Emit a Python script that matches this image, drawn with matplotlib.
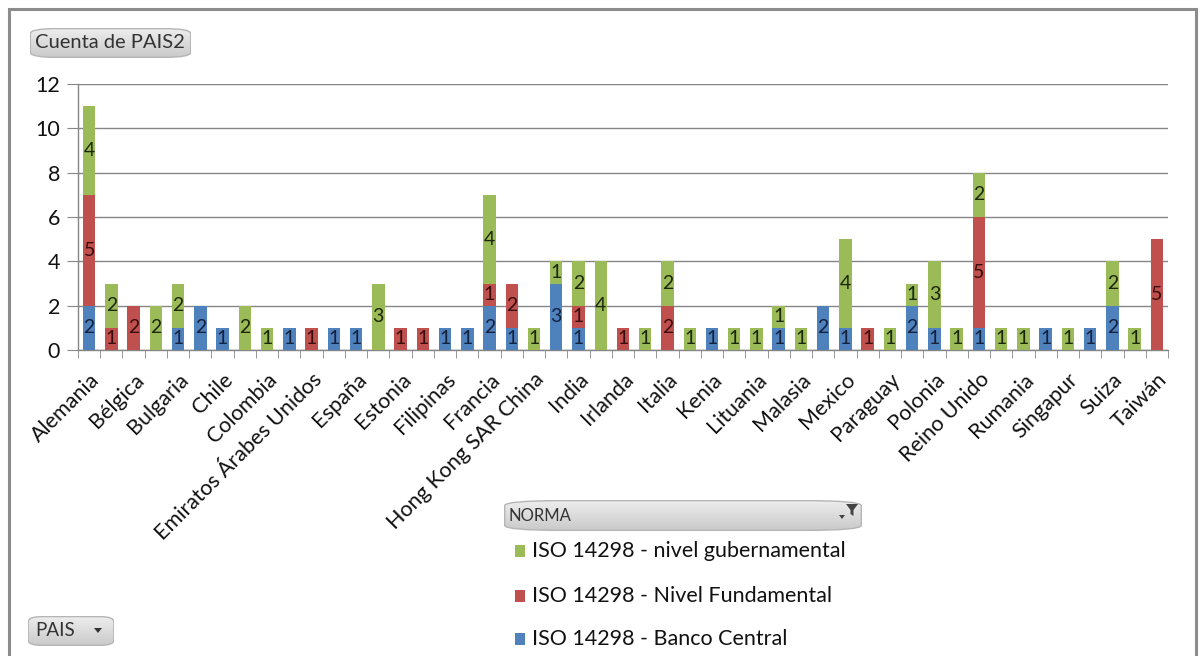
import numpy as np
import matplotlib
matplotlib.use("Agg")
import matplotlib.pyplot as plt
from matplotlib.patches import FancyBboxPatch, Rectangle, Polygon

plt.rcParams['font.family'] = ['Lato', 'DejaVu Sans']

# Country labels shown on the axis (every other category is labelled)
shown_labels = ["Alemania", "Bélgica", "Bulgaria", "Chile", "Colombia",
                "Emiratos Árabes Unidos", "España", "Estonia", "Filipinas",
                "Francia", "Hong Kong SAR China", "India", "Irlanda", "Italia",
                "Kenia", "Lituania", "Malasia", "Mexico", "Paraguay", "Polonia",
                "Reino Unido", "Rumania", "Singapur", "Suiza", "Taiwán"]

series_names = ["ISO 14298 - Banco Central",
                "ISO 14298 - Nivel Fundamental",
                "ISO 14298 - nivel gubernamental"]

banco_central = [2, 0, 0, 0, 1, 2, 1, 0, 0, 1, 0, 1, 1, 0, 0, 0, 1, 1, 2, 1,
                 0, 3, 1, 0, 0, 0, 0, 0, 1, 0, 0, 1, 0, 2, 1, 0, 0, 2, 1, 0,
                 1, 0, 0, 1, 0, 1, 2, 0, 0]
nivel_fundamental = [5, 1, 2, 0, 0, 0, 0, 0, 0, 0, 1, 0, 0, 0, 1, 1, 0, 0, 1, 2,
                     0, 0, 1, 0, 1, 0, 2, 0, 0, 0, 0, 0, 0, 0, 0, 1, 0, 0, 0, 0,
                     5, 0, 0, 0, 0, 0, 0, 0, 5]
nivel_gubernamental = [4, 2, 0, 2, 2, 0, 0, 2, 1, 0, 0, 0, 0, 3, 0, 0, 0, 0, 4, 0,
                       1, 1, 2, 4, 0, 1, 2, 1, 0, 1, 1, 1, 1, 0, 4, 0, 1, 1, 3, 1,
                       2, 1, 1, 0, 1, 0, 2, 1, 0]

colors = ["#4F81BD", "#C0504D", "#9BBB59"]
label_colors = ["#14213d", "#3a0d0d", "#1c260b"]

W, H = 1204, 656
fig = plt.figure(figsize=(W / 100, H / 100), dpi=100)
fig.patch.set_facecolor("white")

ax = fig.add_axes([78 / W, 1 - 350 / H, (1168 - 78) / W, (350 - 84) / H])

values = [np.array(banco_central), np.array(nivel_fundamental),
          np.array(nivel_gubernamental)]
n = len(banco_central)
x = np.arange(n)
bottom = np.zeros(n)
for vals, col, lcol in zip(values, colors, label_colors):
    ax.bar(x, vals, bottom=bottom, width=0.56, color=col, zorder=3)
    for xi, v, b in zip(x, vals, bottom):
        if v > 0:
            ax.text(xi, b + v / 2, f"{v}", ha="center", va="center",
                    fontsize=14, color=lcol, zorder=4)
    bottom = bottom + vals

ax.set_xlim(-0.45, n - 0.5)
ax.set_ylim(0, 12)
ax.set_yticks(range(0, 13, 2))
ax.tick_params(axis="y", labelsize=15.5, length=8, color="#868686", pad=5,
               labelcolor="#111111")
ax.yaxis.grid(True, color="#868686", linewidth=1.0, zorder=0)

ax.set_xticks(x[::2])
ax.set_xticklabels(shown_labels, rotation=45, ha="right",
                   rotation_mode="anchor", fontsize=15.5, color="#111111")
ax.tick_params(axis="x", which="major", length=0, pad=14)
ax.set_xticks(np.arange(n + 1) - 0.5, minor=True)
ax.tick_params(axis="x", which="minor", length=6, color="#868686")

for side in ("top", "right"):
    ax.spines[side].set_visible(False)
for side in ("left", "bottom"):
    ax.spines[side].set_color("#868686")
    ax.spines[side].set_linewidth(1.0)

# Outer chart border
fig.patches.append(Rectangle((9 / W, -0.01), (1196 - 9) / W, 1 - 9 / H + 0.01,
                             transform=fig.transFigure, fill=False,
                             edgecolor="#8c8c8c", linewidth=2.2))

gradient = np.linspace(0, 1, 64).reshape(-1, 1)
btn_cmap = matplotlib.colors.LinearSegmentedColormap.from_list(
    "btn", ["#eeeeee", "#c9c9c9"])


def button(x0, y0, x1, y1):
    bax = fig.add_axes([x0 / W, 1 - y1 / H, (x1 - x0) / W, (y1 - y0) / H])
    bax.set_axis_off()
    bax.set_xlim(0, 1)
    bax.set_ylim(0, 1)
    rs = 5.0 / (y1 - y0)
    shape = FancyBboxPatch((0.002, 0.02), 0.996, 0.96,
                           boxstyle=f"round,pad=0,rounding_size={rs}",
                           mutation_aspect=1, transform=bax.transAxes,
                           facecolor="none", edgecolor="#b5b5b5", linewidth=1)
    img = bax.imshow(gradient, cmap=btn_cmap, extent=(0, 1, 0, 1),
                     aspect="auto", origin="upper")
    bax.add_patch(shape)
    img.set_clip_path(shape)
    return bax


def fig_poly(points, color):
    fig.patches.append(Polygon([(px / W, 1 - py / H) for px, py in points],
                               closed=True, transform=fig.transFigure,
                               facecolor=color, edgecolor="none", zorder=10))


button(30, 28, 191, 58)
fig.text(35 / W, 1 - 43 / H, "Cuenta de PAIS2", fontsize=14.5, color="#333333",
         va="center", ha="left", zorder=10)

button(28, 616, 114, 646)
fig.text(35 / W, 1 - 631 / H, "PAIS", fontsize=13.5, color="#333333",
         va="center", ha="left", zorder=10)
fig_poly([(94, 628), (102, 628), (98, 633)], "#333333")

button(504, 500, 862, 531)
fig.text(508 / W, 1 - 516 / H, "NORMA", fontsize=12, color="#333333",
         va="center", ha="left", zorder=10)
# Filter funnel and small drop-down arrow
fig_poly([(846, 504), (858, 504), (853.5, 510), (853.5, 516),
          (850.5, 514), (850.5, 510)], "#444444")
fig_poly([(839, 515), (845, 515), (842, 519)], "#444444")

# Legend entries (top to bottom: gubernamental, Fundamental, Banco Central)
legend_rows = [(551, 2), (596, 1), (639, 0)]
for y, idx in legend_rows:
    fig.patches.append(Rectangle((515 / W, 1 - (y + 6) / H), 10 / W, 12 / H,
                                 transform=fig.transFigure,
                                 facecolor=colors[idx], edgecolor="none"))
    fig.text(532 / W, 1 - y / H, series_names[idx], fontsize=15.5,
             color="#111111", va="center", ha="left")

fig.savefig("out.png", dpi=100, facecolor="white")
